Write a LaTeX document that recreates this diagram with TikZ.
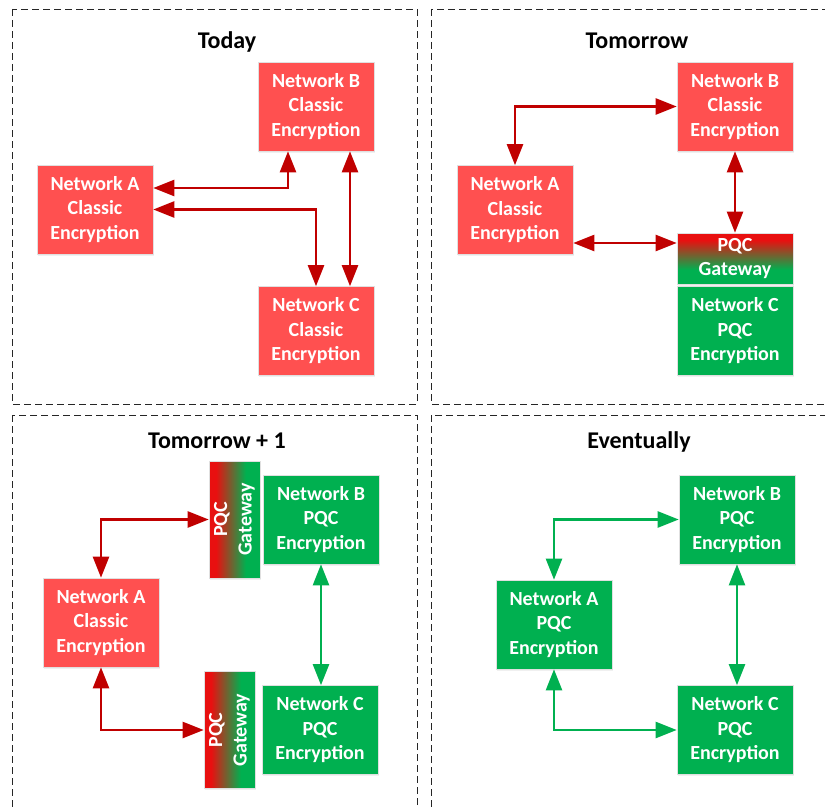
\documentclass[tikz,border=0pt]{standalone}
\usepackage{fontspec}
\setmainfont{Carlito}
\usetikzlibrary{arrows.meta,calc,shadows}
\definecolor{boxred}{RGB}{255,80,80}
\definecolor{boxgreen}{RGB}{0,176,80}
\definecolor{arrred}{RGB}{192,0,0}
\definecolor{gwred}{RGB}{232,16,16}
\pgfdeclarehorizontalshading{gwshade}{100bp}{color(0bp)=(gwred); color(32bp)=(gwred); color(61bp)=(boxgreen); color(100bp)=(boxgreen)}
\begin{document}
\begin{tikzpicture}[x=1pt,y=1pt,
  frame/.style={draw=black!85, line width=0.9pt, dash pattern=on 7pt off 4pt},
  title/.style={font=\bfseries\fontsize{24}{28}\selectfont, anchor=base},
  netbox/.style={minimum width=116pt, minimum height=89pt, inner sep=0pt, align=center,
    text=white, font=\bfseries\fontsize{20}{24.5}\selectfont, draw=black!12, line width=0.6pt,
    drop shadow={shadow xshift=0.8pt, shadow yshift=-1.5pt, opacity=0.12}},
  redbox/.style={netbox, fill=boxred},
  greenbox/.style={netbox, fill=boxgreen},
  gwv/.style={netbox, minimum height=51pt, shade, shading=gwshade, shading angle=-90},
  gwh/.style={netbox, minimum width=51pt, minimum height=117pt, shade, shading=gwshade},
  biarrow/.style={line width=2.3pt, arrows={Triangle[length=21pt 0 0,width=16pt 0 0]-Triangle[length=21pt 0 0,width=16pt 0 0]}},
  arrR/.style={biarrow, draw=arrred},
  arrG/.style={biarrow, draw=boxgreen}
]
\useasboundingbox (0,0) rectangle (825,-808);
\begin{scope}
\clip (0,0) rectangle (825,-808);
\draw[frame] (12,-9) rectangle (417,-404);
\draw[frame] (431,-9) rectangle (840,-404);
\draw[frame] (12,-415) rectangle (417,-820);
\draw[frame] (431,-415) rectangle (840,-820);
\end{scope}

% Panel 1: Today
\node[title] (t1) at (227,-49) {Today};
\node[redbox] (B1) at (316,-106.5) {Network B\\Classic\\Encryption};
\node[redbox] (A1) at (95,-209.5) {Network A\\Classic\\Encryption};
\node[redbox] (C1) at (316,-331) {Network C\\Classic\\Encryption};
\draw[arrR] ($(A1.east)+(0,21.5)$) -| ($(B1.south)+(-28,0)$);
\draw[arrR] (A1.east) -| (C1.north);
\draw[arrR] ($(B1.south)+(34,0)$) -- ($(C1.north)+(34,0)$);

% Panel 2: Tomorrow
\node[title] (t2) at (637,-49) {Tomorrow};
\node[redbox] (B2) at (735,-106.5) {Network B\\Classic\\Encryption};
\node[redbox] (A2) at (515,-210) {Network A\\Classic\\Encryption};
\node[gwv] (G2) at (735,-258.5) {PQC\\Gateway};
\node[greenbox] (C2) at (735,-331) {Network C\\PQC\\Encryption};
\coordinate (a2g) at ($(A2.east)+(0,-33)$);
\draw[arrR] (A2.north) |- (B2.west);
\draw[arrR] (a2g) -- (a2g -| G2.west);
\draw[arrR] (B2.south) -- (G2.north);

% Panel 3: Tomorrow + 1
\node[title] (t3) at (217,-448) {Tomorrow + 1};
\node[gwh] (G3a) at (234.5,-519.5) {\rotatebox{90}{\begin{tabular}{@{}c@{}}PQC\\Gateway\end{tabular}}};
\node[greenbox] (B3) at (321,-519.5) {Network B\\PQC\\Encryption};
\node[redbox] (A3) at (101,-622.5) {Network A\\Classic\\Encryption};
\node[gwh] (G3b) at (229.5,-730) {\rotatebox{90}{\begin{tabular}{@{}c@{}}PQC\\Gateway\end{tabular}}};
\node[greenbox] (C3) at (320,-730) {Network C\\PQC\\Encryption};
\draw[arrR] (A3.north) |- (G3a.west);
\draw[arrR] (A3.south) |- (G3b.west);
\draw[arrG] (B3.south) -- (B3.south |- C3.north);

% Panel 4: Eventually
\node[title] (t4) at (639,-448) {Eventually};
\node[greenbox] (B4) at (737,-519.5) {Network B\\PQC\\Encryption};
\node[greenbox] (A4) at (554,-624.5) {Network A\\PQC\\Encryption};
\node[greenbox] (C4) at (735,-730) {Network C\\PQC\\Encryption};
\draw[arrG] (A4.north) |- (B4.west);
\draw[arrG] (A4.south) |- (C4.west);
\draw[arrG] (B4.south) -- (B4.south |- C4.north);
\end{tikzpicture}
\end{document}
